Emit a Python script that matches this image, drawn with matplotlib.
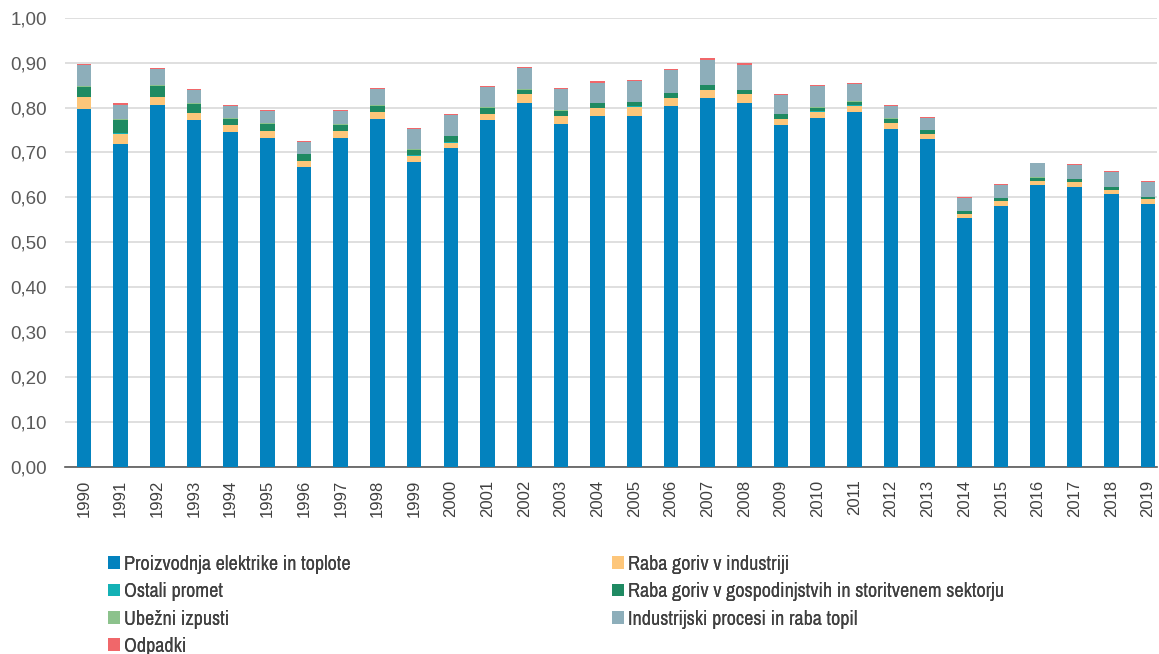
import matplotlib
matplotlib.use('Agg')
import matplotlib.pyplot as plt
import numpy as np

years = [str(y) for y in range(1990, 2020)]

# emisije po sektorjih (odčitano s slike)
proizvodnja = [0.796, 0.719, 0.806, 0.772, 0.746, 0.733, 0.667, 0.732, 0.775, 0.679,
               0.710, 0.772, 0.811, 0.764, 0.781, 0.782, 0.804, 0.822, 0.810, 0.762,
               0.777, 0.791, 0.753, 0.730, 0.553, 0.581, 0.627, 0.624, 0.607, 0.586]
industrija = [0.028, 0.023, 0.018, 0.016, 0.014, 0.015, 0.014, 0.016, 0.015, 0.014,
              0.012, 0.014, 0.018, 0.017, 0.018, 0.020, 0.017, 0.017, 0.020, 0.013,
              0.014, 0.013, 0.013, 0.011, 0.010, 0.011, 0.010, 0.010, 0.010, 0.010]
promet = [0.0005] * 30
gospodinjstva = [0.021, 0.029, 0.023, 0.020, 0.015, 0.015, 0.014, 0.012, 0.013, 0.013,
                 0.013, 0.012, 0.010, 0.011, 0.010, 0.009, 0.010, 0.010, 0.008, 0.010,
                 0.008, 0.008, 0.009, 0.008, 0.006, 0.006, 0.006, 0.006, 0.005, 0.004]
ubezni = [0.002, 0.002, 0.002, 0.002, 0.002, 0.002, 0.002, 0.002, 0.002, 0.002,
          0.002, 0.002, 0.001, 0.001, 0.001, 0.001, 0.001, 0.001, 0.001, 0.001,
          0.001, 0.001, 0.001, 0.001, 0.001, 0.001, 0.001, 0.001, 0.001, 0.001]
procesi = [0.048, 0.033, 0.036, 0.028, 0.026, 0.027, 0.026, 0.030, 0.035, 0.043,
           0.046, 0.045, 0.048, 0.047, 0.045, 0.047, 0.051, 0.056, 0.056, 0.041,
           0.047, 0.039, 0.027, 0.026, 0.028, 0.029, 0.031, 0.031, 0.032, 0.032]
odpadki = [0.002, 0.003, 0.002, 0.002, 0.002, 0.003, 0.003, 0.003, 0.002, 0.002,
           0.002, 0.002, 0.002, 0.002, 0.003, 0.002, 0.002, 0.003, 0.003, 0.002,
           0.002, 0.003, 0.002, 0.002, 0.002, 0.002, 0.002, 0.001, 0.003, 0.002]

series = [
    ('Proizvodnja elektrike in toplote', proizvodnja, '#0382BE'),
    ('Raba goriv v industriji', industrija, '#FDC67A'),
    ('Ostali promet', promet, '#14B1B5'),
    ('Raba goriv v gospodinjstvih in storitvenem sektorju', gospodinjstva, '#1F8A62'),
    ('Ubežni izpusti', ubezni, '#8CC28C'),
    ('Industrijski procesi in raba topil', procesi, '#8DAEBA'),
    ('Odpadki', odpadki, '#F0676A'),
]

fig = plt.figure(figsize=(11.59, 6.54), dpi=100)
ax = fig.add_axes([0.056, 0.286, 0.942, 0.687])

x = np.arange(len(years))
bottom = np.zeros(len(years))
handles = {}
for name, vals, col in series:
    h = ax.bar(x, vals, 0.4, bottom=bottom, color=col, label=name, zorder=3)
    handles[name] = h
    bottom += np.array(vals)

ax.set_ylim(0, 1.0)
ax.set_xlim(-0.52, 29.24)
ax.set_yticks(np.arange(0, 1.01, 0.1))
ax.set_yticklabels([f'{v:.2f}'.replace('.', ',') for v in np.arange(0, 1.01, 0.1)],
                   fontsize=13.5, color='#595959', family='Liberation Sans')
ax.set_xticks(x)
ax.set_xticklabels(years, rotation=90, fontsize=12, color='#404040', family='Liberation Sans')
ax.tick_params(axis='y', length=0, pad=13)
ax.tick_params(axis='x', length=0, pad=9)
ax.grid(axis='y', color='#d9d9d9', linewidth=1.2, zorder=0)
for s in ['top', 'right', 'left']:
    ax.spines[s].set_visible(False)
ax.spines['bottom'].set_color('#595959')
ax.spines['bottom'].set_linewidth(1.2)

leg_font = {'family': ['Archivo Narrow', 'DejaVu Sans'], 'size': 14.5}
col1 = ['Proizvodnja elektrike in toplote', 'Ostali promet', 'Ubežni izpusti', 'Odpadki']
col2 = ['Raba goriv v industriji', 'Raba goriv v gospodinjstvih in storitvenem sektorju',
        'Industrijski procesi in raba topil']
for names, xpos in [(col1, 0.093), (col2, 0.528)]:
    lg = fig.legend([handles[n] for n in names], names, loc='upper left',
                    bbox_to_anchor=(xpos, 0.152), frameon=False, prop=leg_font,
                    handlelength=0.6, handleheight=0.6, handletextpad=0.2,
                    labelspacing=0.42, borderaxespad=0, borderpad=0)
    for t in lg.get_texts():
        t.set_color('#404040')
    fig.add_artist(lg)

fig.savefig('out.png', dpi=100)
